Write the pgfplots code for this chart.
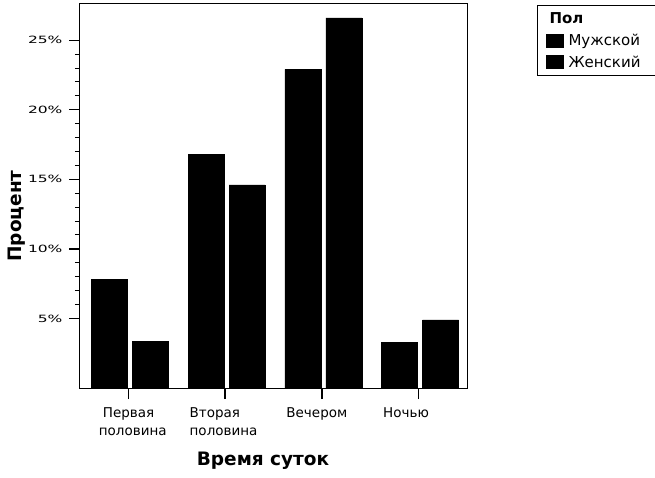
\documentclass[border=0pt]{standalone}
\usepackage{pgfplots}
\pgfplotsset{compat=1.18}
\usepackage{fontspec}
\setmainfont{DejaVu Sans}
\newcommand{\yt}[1]{\scalebox{1.55}[1]{#1}}
\begin{document}
\begin{tikzpicture}[x=1pt,y=1pt]
\path[use as bounding box] (-80,-89) rectangle (575,388);
\begin{axis}[
  at={(0,0)}, anchor=south west,
  scale only axis, width=387pt, height=384pt,
  xmin=-0.5, xmax=3.5, ymin=0, ymax=27.6,
  ybar, bar width=36pt,
  xtick={0,1,2,3},
  xticklabels={{\hspace*{10pt}Первая\\\hspace*{6pt}половина},{Вторая\\половина},{Вечером},{Ночью}},
  xticklabel style={align=left, anchor=north west, xshift=-39pt, font=\fontsize{13.5}{18}\selectfont, yshift=-5pt},
  ytick={5,10,15,20,25},
  yticklabels={\yt{5\%},\yt{10\%},\yt{15\%},\yt{20\%},\yt{25\%}},
  yticklabel style={font=\fontsize{10}{11}\selectfont, xshift=-3pt},
  minor y tick num=4,
  tick align=outside, xtick pos=bottom, ytick pos=left,
  major tick length=11pt, minor tick length=5pt,
  major tick style={black, line width=1.3pt},
  minor tick style={black, line width=1pt},
  axis line style={line width=1pt},
  xlabel={Время суток}, ylabel={Процент},
  xlabel style={font=\bfseries\fontsize{18.5}{20}\selectfont, at={(axis description cs:0.473,-0.19)}, anchor=center},
  ylabel style={font=\bfseries\fontsize{18.5}{20}\selectfont, at={(axis description cs:-0.163,0.448)}, anchor=center},
  legend style={at={(1.181,0.997)}, anchor=north west, draw=black, line width=1pt,
    font=\fontsize{15}{16}\selectfont, row sep=5pt, inner xsep=8pt, inner ysep=5pt,
    cells={anchor=west}},
]
\addlegendimage{empty legend}
\addlegendentry{\hspace*{-16pt}\textbf{Пол}}
\addplot[fill=black, draw=black, bar shift=-19pt,
  legend image code/.code={\fill[black] (0pt,-6.5pt) rectangle (17pt,6.5pt);}]
  coordinates {(0,7.8) (1,16.8) (2,22.9) (3,3.3)};
\addlegendentry{\hspace*{3pt}Мужской\hspace*{12pt}}
\addplot[fill=black, draw=black, bar shift=22pt,
  legend image code/.code={\fill[black] (0pt,-6.5pt) rectangle (17pt,6.5pt);}]
  coordinates {(0,3.35) (1,14.6) (2,26.6) (3,4.9)};
\addlegendentry{\hspace*{3pt}Женский}
\end{axis}
\end{tikzpicture}
\end{document}
